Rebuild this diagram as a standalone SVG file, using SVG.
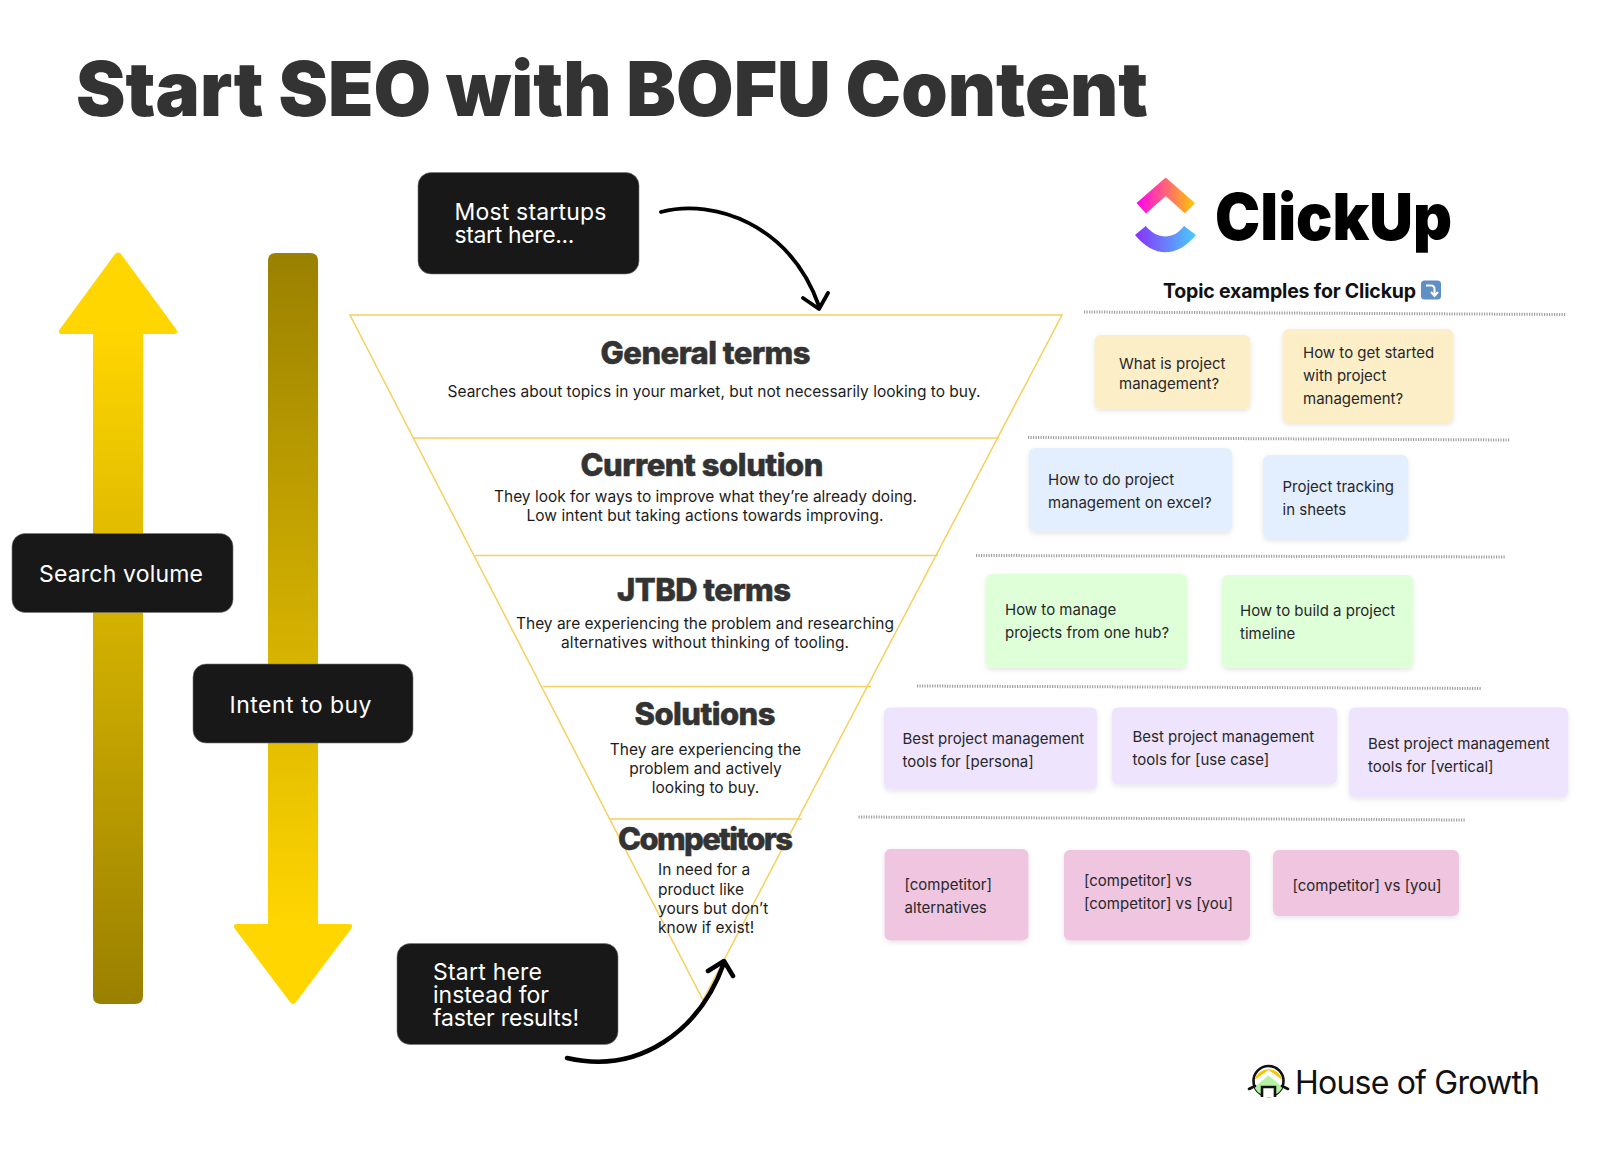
<svg xmlns="http://www.w3.org/2000/svg" width="1600" height="1152" viewBox="0 0 1600 1152">
<style>
text{font-family:Inter,"Liberation Sans",sans-serif}
.h{font-weight:800;font-size:31px;fill:#333;stroke:#333;stroke-width:.5px;text-anchor:middle}
.d{font-size:15.500px;fill:#1c1c1c;text-anchor:middle}
.c{font-size:15px;fill:#27272a}
.t{font-size:15.500px;fill:#1c1c1c}
.l{font-size:23px;fill:#fff}
.box{fill:#181818;stroke:#777;stroke-width:.6}
.f{fill:none;stroke:#F6D05F;stroke-width:1.500}
.sep{fill:none;stroke:#a0a0a0;stroke-width:3;stroke-dasharray:1.200 1.300}
.ar{fill:none;stroke:#000;stroke-linecap:round;stroke-linejoin:round}
.y{fill:#FCEFC8}.b{fill:#E3EFFE}.g{fill:#DFFFD8}.p{fill:#EEE4FE}.k{fill:#EFC5DF}
.card{filter:url(#sh)}
</style>
<defs>
<filter id="sh" x="-10%" y="-10%" width="120%" height="125%"><feDropShadow dx="0" dy="2" stdDeviation="2.500" flood-color="#000" flood-opacity=".1"/></filter>
<linearGradient id="up" gradientUnits="userSpaceOnUse" x1="0" y1="330" x2="0" y2="1004"><stop offset="0" stop-color="#FFD600"/><stop offset="1" stop-color="#9A8000"/></linearGradient>
<linearGradient id="down" gradientUnits="userSpaceOnUse" x1="0" y1="253" x2="0" y2="925"><stop offset="0" stop-color="#9A8000"/><stop offset="1" stop-color="#FFD600"/></linearGradient>
<linearGradient id="cu1" gradientUnits="userSpaceOnUse" x1="1137" y1="205" x2="1195" y2="205"><stop offset="0" stop-color="#FF02F0"/><stop offset="1" stop-color="#FFC800"/></linearGradient>
<linearGradient id="cu2" gradientUnits="userSpaceOnUse" x1="1135" y1="238" x2="1196" y2="238"><stop offset="0" stop-color="#8930FD"/><stop offset="1" stop-color="#49CCF9"/></linearGradient>
</defs>
<rect width="1600" height="1152" fill="#fff"/>
<text id="title" x="76" y="115.500" font-size="76" font-weight="900" fill="#333" textLength="1072" lengthAdjust="spacingAndGlyphs">Start SEO with BOFU Content</text>

<g id="arrow-search"><path d="M93 1000V334H62Q57 334 60 329L115 254Q118 251 121 254L176 329Q179 334 174 334H143V996Q143 1004 135 1004H101Q93 1004 93 996Z" fill="url(#up)"/></g>
<g id="arrow-intent"><path d="M268 261Q268 253 276 253H310Q318 253 318 261V924H349Q354 924 351 929L296 1002Q293 1006 290 1002L235 929Q232 924 237 924H268Z" fill="url(#down)"/></g>
<g id="search-volume"><rect class="box" x="12" y="533.500" width="221" height="79" rx="13"/><text class="l" x="39" y="582" textLength="164">Search volume</text></g>
<g id="intent-to-buy"><rect class="box" x="193" y="664" width="220" height="79" rx="13"/><text class="l" x="229.500" y="712.500" textLength="142">Intent to buy</text></g>
<g id="most-startups"><rect class="box" x="418" y="172.500" width="221" height="101.500" rx="13"/><text class="l"><tspan x="454.500" y="220" textLength="152">Most startups</tspan><tspan x="454.500" y="243" textLength="120">start here...</tspan></text></g>
<g id="start-here"><rect class="box" x="397" y="943.500" width="221" height="101" rx="13"/><text class="l"><tspan x="433" y="980" textLength="109">Start here</tspan><tspan x="433" y="1003" textLength="116">instead for</tspan><tspan x="433" y="1026" textLength="146">faster results!</tspan></text></g>

<g id="funnel">
<path class="f" d="M350 315H1062L703 1000Z"/>
<path class="f" d="M413 438H999M475 555.500H938M543 686.500H871M610 819H802"/>
</g>
<g id="general-terms"><text class="h" x="705.500" y="364" textLength="210">General terms</text><text class="d" x="714" y="397" textLength="533">Searches about topics in your market, but not necessarily looking to buy.</text></g>
<g id="current-solution"><text class="h" x="702" y="476" textLength="243">Current solution</text><text class="d" x="705.500" y="502" textLength="423">They look for ways to improve what they’re already doing.</text><text class="d" x="705" y="521" textLength="357">Low intent but taking actions towards improving.</text></g>
<g id="jtbd-terms"><text class="h" x="704" y="601" textLength="174">JTBD terms</text><text class="d" x="705" y="629" textLength="378">They are experiencing the problem and researching</text><text class="d" x="705" y="648" textLength="288">alternatives without thinking of tooling.</text></g>
<g id="solutions"><text class="h" x="705" y="725" textLength="141">Solutions</text><text class="d" x="705.500" y="755">They are experiencing the</text><text class="d" x="705.500" y="774">problem and actively</text><text class="d" x="705.500" y="793">looking to buy.</text></g>
<g id="competitors"><text class="h" x="705.500" y="850" textLength="175">Competitors</text><text class="t" x="658" y="875">In need for a</text><text class="t" x="658" y="895">product like</text><text class="t" x="658" y="914">yours but don’t</text><text class="t" x="658" y="933">know if exist!</text></g>

<g id="connectors">
<path class="ar" stroke-width="3.800" d="M661 212C715 198 790 225 819 306M803 298L819 309L828 293"/>
<path class="ar" stroke-width="4.500" d="M567 1058C640 1075 700 1030 724 963M708 971L724 961L733 976"/>
</g>

<g id="clickup-logo">
<path d="M1165.700 177.500L1195 203L1185 213.500L1165.700 196L1146 213.500L1136.500 203Z" fill="url(#cu1)"/>
<path d="M1145.700 226C1158 240 1173 240 1184 226L1196 235C1177 258 1154 258 1135 235Z" fill="url(#cu2)"/>
<text x="1215" y="240" font-size="65" font-weight="900" fill="#000" textLength="237" lengthAdjust="spacingAndGlyphs">ClickUp</text>
</g>
<g id="topic-heading"><text x="1163" y="298" font-size="19.500" font-weight="700" fill="#111" textLength="253">Topic examples for Clickup</text>
<rect x="1421" y="280.500" width="20" height="19" rx="3.500" fill="#5F8FC4"/><path d="M1426 285.500H1431Q1434.500 285.500 1434.500 289V295M1431 292L1434.500 296L1438 292" fill="none" stroke="#fff" stroke-width="2"/></g>
<g id="separators">
<path class="sep" d="M1084 312L1566 314.500"/><path class="sep" d="M1028 437.500L1510 440"/><path class="sep" d="M976 555.500L1506 557"/><path class="sep" d="M917 686L1481 688.500"/><path class="sep" d="M858.500 817L1466 820"/>
</g>

<g id="card-1"><rect class="card y" x="1094.500" y="335" width="156" height="74" rx="6"/><text class="c" x="1119" y="369">What is project</text><text class="c" x="1119" y="389">management?</text></g>
<g id="card-2"><rect class="card y" x="1282.500" y="329" width="171" height="94" rx="6"/><text class="c" x="1303" y="358">How to get started</text><text class="c" x="1303" y="381">with project</text><text class="c" x="1303" y="404">management?</text></g>
<g id="card-3"><rect class="card b" x="1029" y="448" width="203" height="84" rx="6"/><text class="c" x="1048" y="485">How to do project</text><text class="c" x="1048" y="508">management on excel?</text></g>
<g id="card-4"><rect class="card b" x="1263" y="455" width="145" height="84" rx="6"/><text class="c" x="1282.500" y="492">Project tracking</text><text class="c" x="1282.500" y="515">in sheets</text></g>
<g id="card-5"><rect class="card g" x="986" y="574" width="201" height="94" rx="6"/><text class="c" x="1005" y="615">How to manage</text><text class="c" x="1005" y="638">projects from one hub?</text></g>
<g id="card-6"><rect class="card g" x="1222" y="575" width="191" height="93" rx="6"/><text class="c" x="1240" y="616">How to build a project</text><text class="c" x="1240" y="639">timeline</text></g>
<g id="card-7"><rect class="card p" x="884" y="707.500" width="213" height="82" rx="6"/><text class="c" x="902.500" y="744">Best project management</text><text class="c" x="902.500" y="767">tools for [persona]</text></g>
<g id="card-8"><rect class="card p" x="1112" y="707.500" width="225" height="77" rx="6"/><text class="c" x="1132.500" y="742">Best project management</text><text class="c" x="1132.500" y="765">tools for [use case]</text></g>
<g id="card-9"><rect class="card p" x="1349" y="707.500" width="219" height="90" rx="6"/><text class="c" x="1368" y="749">Best project management</text><text class="c" x="1368" y="772">tools for [vertical]</text></g>
<g id="card-10"><rect class="card k" x="884.500" y="849" width="144" height="91.500" rx="6"/><text class="c" x="904.500" y="890">[competitor]</text><text class="c" x="904.500" y="913">alternatives</text></g>
<g id="card-11"><rect class="card k" x="1064" y="850" width="186" height="90.500" rx="6"/><text class="c" x="1084" y="886">[competitor] vs</text><text class="c" x="1084" y="909">[competitor] vs [you]</text></g>
<g id="card-12"><rect class="card k" x="1273" y="850" width="186" height="66" rx="6"/><text class="c" x="1292.500" y="890.500">[competitor] vs [you]</text></g>

<g id="house-of-growth">
<circle cx="1268.500" cy="1081" r="15" fill="#fff" stroke="#111" stroke-width="2.600"/>
<path d="M1254.500 1080A14.500 14.500 0 0 1 1282.500 1080L1268.500 1070Z" fill="#F7C600"/>
<path d="M1254.500 1087L1268.500 1075.500L1282.500 1087Q1281 1092 1274 1095V1088H1263V1095Q1256 1092 1254.500 1087Z" fill="#B5F2A0"/>
<path d="M1262 1097V1087H1275V1097" fill="#fff" stroke="#111" stroke-width="2.600"/>
<path d="M1249 1089L1255 1086M1288 1089L1282 1086" stroke="#111" stroke-width="2.600" stroke-linecap="round"/>
<text x="1295" y="1094" font-size="32" font-weight="400" fill="#111" textLength="245">House of Growth</text>
</g>
</svg>
